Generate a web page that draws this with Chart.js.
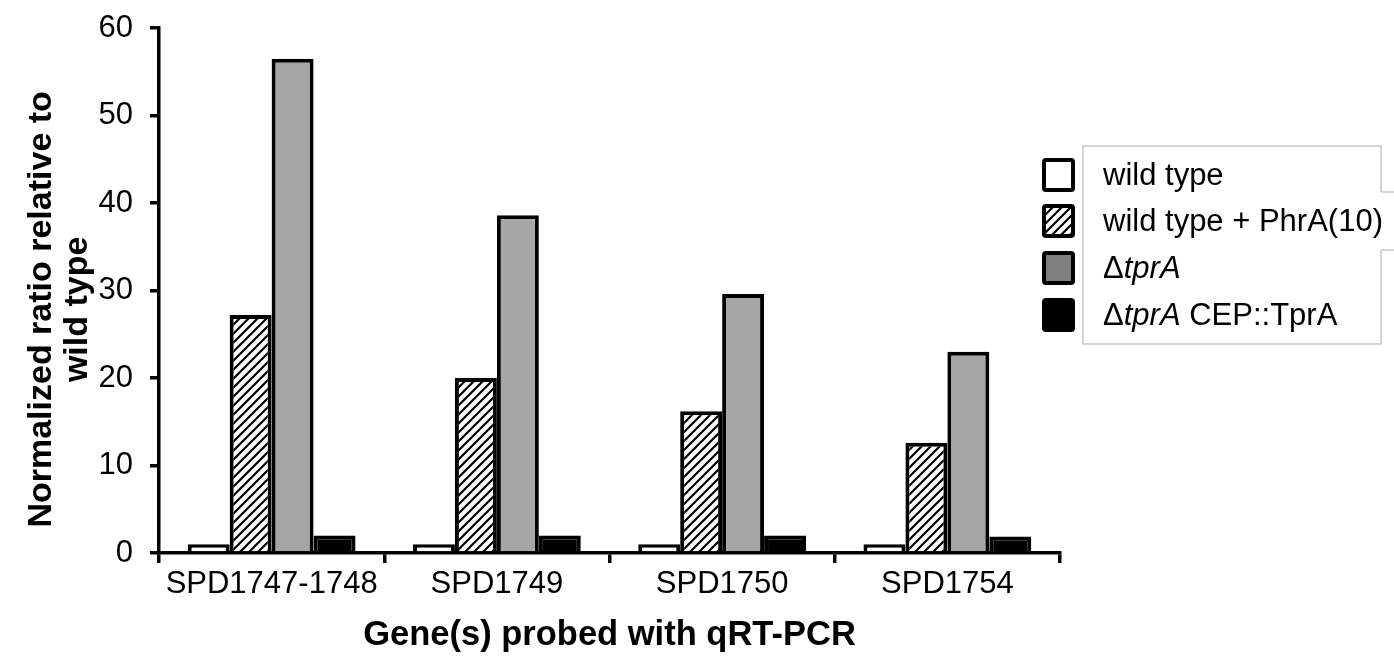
<!DOCTYPE html>
<html>
<head>
<meta charset="utf-8">
<script src="https://cdn.jsdelivr.net/npm/chart.js@4"></script>
<style>
  html, body { margin: 0; padding: 0; background: #fff; }
  #wrap { width: 1394px; height: 661px; }
</style>
</head>
<body>
<div id="wrap"><canvas id="chart" width="1394" height="661"></canvas></div>
<script>
const genes = ['SPD1747-1748', 'SPD1749', 'SPD1750', 'SPD1754'];
const seriesNames = ['wild type', 'wild type + PhrA(10)', '\u0394tprA', '\u0394tprA CEP::TprA'];
const wildType = [1, 1, 1, 1];
const wildTypePhrA = [27.2, 20.0, 16.2, 12.6];
const deltaTprA = [56.5, 38.6, 29.6, 23.0];
const deltaTprAComp = [2.0, 2.0, 2.0, 1.9];
const yTicks = [0, 10, 20, 30, 40, 50, 60];

const FONT = 'Liberation Sans, Arial, sans-serif';

function makeHatch() {
    const c = document.createElement('canvas');
    c.width = 9;
    c.height = 9;
    const g = c.getContext('2d');
    g.fillStyle = '#fff';
    g.fillRect(0, 0, 9, 9);
    g.strokeStyle = '#000';
    g.lineWidth = 2.2;
    g.beginPath();
    g.moveTo(-1, 10); g.lineTo(10, -1);
    g.moveTo(-5, 5); g.lineTo(5, -5);
    g.moveTo(4, 14); g.lineTo(14, 4);
    g.stroke();
    return document.getElementById('chart').getContext('2d').createPattern(c, 'repeat');
}

const hatch = makeHatch();

// legend drawn by hand so the 'tprA' part can be italic
const legendPlugin = {
    id: 'sideLegend',
    afterDraw(chart) {
        const ctx = chart.ctx;
        ctx.save();
        // faint frame, broken on the right like in the figure
        ctx.strokeStyle = '#c8c8c8';
        ctx.lineWidth = 1.5;
        ctx.beginPath();
        ctx.moveTo(1381, 192); ctx.lineTo(1381, 146); ctx.lineTo(1083, 146);
        ctx.lineTo(1083, 344); ctx.lineTo(1381, 344); ctx.lineTo(1381, 250);
        ctx.moveTo(1381, 192); ctx.lineTo(1394, 192);
        ctx.moveTo(1381, 250); ctx.lineTo(1394, 250);
        ctx.stroke();

        const swatchFills = ['#fff', hatch, '#808080', '#000'];
        const rowY = [175, 221, 268, 315];
        chart.data.datasets.forEach((ds, i) => {
            const y = rowY[i];
            ctx.fillStyle = swatchFills[i];
            ctx.strokeStyle = '#000';
            ctx.lineWidth = 4;
            ctx.beginPath();
            ctx.roundRect(1044, y - 15, 29, 30, 2);
            ctx.fill();
            ctx.stroke();

            ctx.fillStyle = '#000';
            ctx.textBaseline = 'middle';
            let x = 1103;
            const parts = ds.label.split(/(tprA)/);
            parts.forEach(p => {
                if (!p) return;
                ctx.font = (p === 'tprA' ? 'italic ' : '') + '31px ' + FONT;
                ctx.fillText(p, x, y + 1);
                x += ctx.measureText(p).width;
            });
        });
        ctx.restore();
    }
};

new Chart(document.getElementById('chart'), {
    type: 'bar',
    data: {
        labels: genes,
        datasets: [
            { label: seriesNames[0], data: wildType, backgroundColor: '#fff' },
            { label: seriesNames[1], data: wildTypePhrA, backgroundColor: hatch },
            { label: seriesNames[2], data: deltaTprA, backgroundColor: '#a6a6a6' },
            { label: seriesNames[3], data: deltaTprAComp, backgroundColor: '#000' }
        ].map(d => Object.assign(d, {
            borderColor: '#000',
            borderWidth: 4,
            borderSkipped: 'bottom',
            categoryPercentage: 0.745,
            barPercentage: 1
        }))
    },
    options: {
        responsive: false,
        animation: false,
        layout: { padding: { left: 0, top: 28, right: 334, bottom: 0 } },
        plugins: {
            legend: { display: false },
            tooltip: { enabled: false }
        },
        scales: {
            x: {
                afterFit: s => { s.height = 108; },
                border: { color: '#000', width: 3.5 },
                grid: { drawOnChartArea: false, tickLength: 10, color: '#000', lineWidth: 3.5, offset: true },
                ticks: { color: '#000', font: { family: FONT, size: 31 }, padding: 3 },
                title: {
                    display: true,
                    text: 'Gene(s) probed with qRT-PCR',
                    color: '#000',
                    font: { family: FONT, size: 34.5, weight: 'bold', lineHeight: 1.1 },
                    padding: { top: 0, bottom: 7 }
                }
            },
            y: {
                min: 0,
                max: 60,
                afterFit: s => {
                    s.width = 159;
                    // let the layout padding alone decide where the plot starts
                    s.paddingTop = 0;
                    s.paddingBottom = 0;
                },
                afterBuildTicks: s => { s.ticks = yTicks.map(v => ({ value: v })); },
                border: { color: '#000', width: 3.5 },
                grid: { drawOnChartArea: false, tickLength: 9, color: '#000', lineWidth: 3.5 },
                ticks: { color: '#000', font: { family: FONT, size: 31 }, padding: 17 },
                title: {
                    display: true,
                    // trailing spaces nudge the centred title down a little
                    text: ['Normalized ratio relative to    ', 'wild type    '],
                    color: '#000',
                    font: { family: FONT, size: 34, weight: 'bold', lineHeight: 1.05 },
                    padding: { top: 24, bottom: 0 }
                }
            }
        }
    },
    plugins: [legendPlugin]
});
</script>
</body>
</html>
